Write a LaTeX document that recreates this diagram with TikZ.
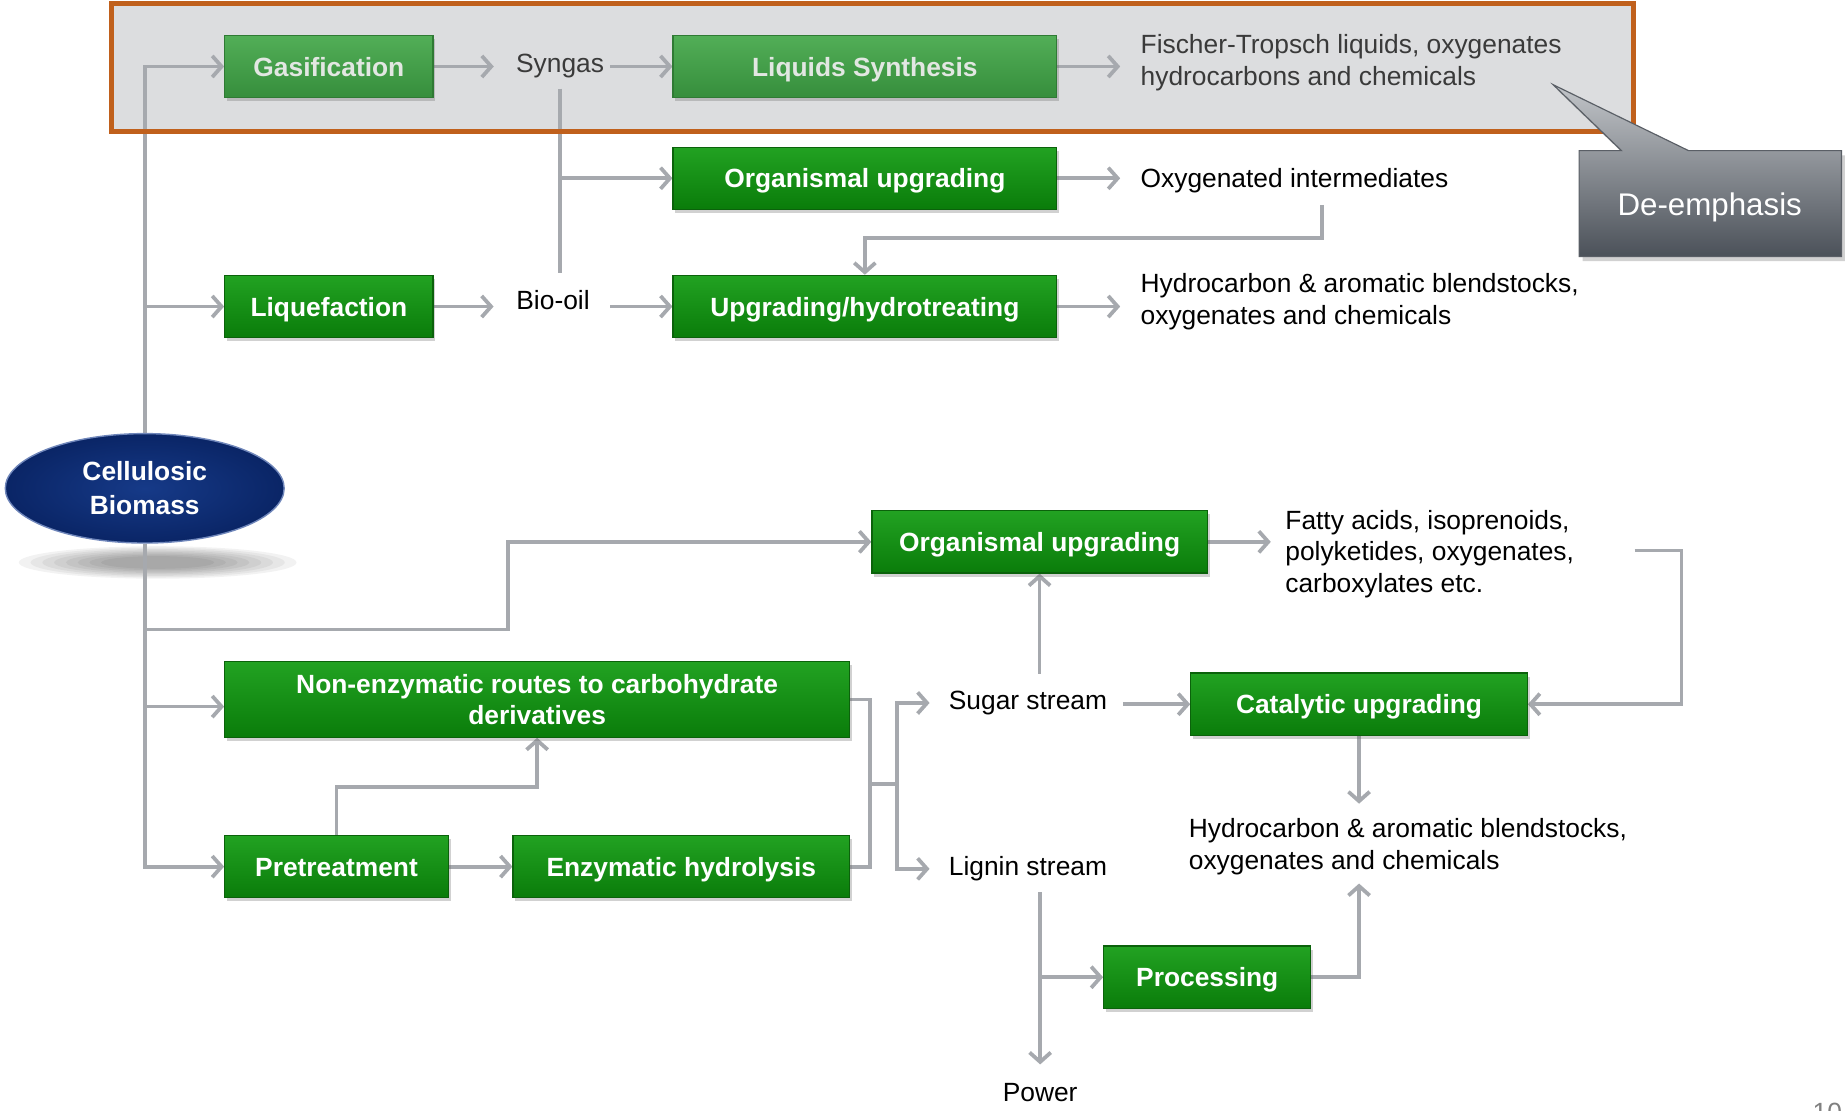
\documentclass[tikz,border=0pt]{standalone}
\usepackage{fontspec}
\setmainfont{Liberation Sans}
\usetikzlibrary{arrows.meta,shadows,shapes.geometric,calc}
\pgfdeclarelayer{bg}
\pgfsetlayers{bg,main}
\definecolor{lnk}{HTML}{A6A9AE}
\definecolor{gtop}{HTML}{22A222}
\definecolor{gbot}{HTML}{0A7C0A}
\definecolor{gedge}{HTML}{0B620B}
\definecolor{ftop}{HTML}{52AE57}
\definecolor{fbot}{HTML}{368E3C}
\definecolor{fedge}{HTML}{2F7A34}
\definecolor{ftext}{HTML}{E2E7E2}
\definecolor{orng}{HTML}{C0601C}
\definecolor{panel}{HTML}{DCDDDF}
\definecolor{cbin}{HTML}{163A88}
\definecolor{cbout}{HTML}{0A2566}
\definecolor{cbedge}{HTML}{6F86BA}
\definecolor{cltop}{HTML}{C2C5C9}
\definecolor{clmid}{HTML}{9A9DA3}
\definecolor{clbot}{HTML}{4B5159}
\definecolor{cledge}{HTML}{5A5F66}
\definecolor{dimtext}{HTML}{3A3A3A}
\begin{document}
\begin{tikzpicture}[x=0.5pt,y=-0.5pt,
  gbox/.style={draw=gedge, line width=0.5pt, top color=gtop, bottom color=gbot,
    text=white, font=\bfseries\fontsize{11.2}{13.5}\selectfont, align=center,
    inner sep=0pt, minimum height=26.5pt,
    drop shadow={shadow xshift=1pt, shadow yshift=-1.5pt, opacity=0.3, fill=black!60}},
  sbox/.style={gbox, text height=8.2pt, text depth=0pt},
  fbox/.style={sbox, draw=fedge, top color=ftop, bottom color=fbot, text=ftext},
  txt/.style={inner sep=0pt, text height=8pt, text depth=2.4pt,
    font=\fontsize{11.2}{13.5}\selectfont},
  mtxt/.style={inner sep=0pt, align=left, anchor=north west,
    font=\fontsize{11.2}{13.5}\selectfont},
  ln/.style={draw=lnk, line width=1.6pt},
  arr/.style={ln, -{Straight Barb[length=4pt,width=9pt]}}
]
\useasboundingbox (0,0) rectangle (1568,944);

% ---------- nodes ----------
\node[fbox, minimum width=88.5pt] (gas) at (279.5,56.5) {Gasification};
\node[fbox, minimum width=163pt] (liq) at (735,56.5) {Liquids Synthesis};
\node[sbox, minimum width=163pt] (org1) at (735,151.5) {Organismal upgrading};
\node[sbox, minimum width=88.5pt] (lqf) at (279.5,260.5) {Liquefaction};
\node[sbox, minimum width=163pt] (upg) at (735,260.5) {Upgrading/hydrotreating};
\node[sbox, minimum width=142.5pt] (org2) at (883.5,460.5) {Organismal upgrading};
\node[gbox, minimum width=265.5pt, minimum height=32pt] (nonenz) at (456.5,594.5)
  {Non-enzymatic routes to carbohydrate\\derivatives};
\node[sbox, minimum width=95pt] (pre) at (286,736.5) {Pretreatment};
\node[sbox, minimum width=143pt] (enz) at (579,736.5) {Enzymatic hydrolysis};
\node[sbox, minimum width=143pt] (cat) at (1155,598.5) {Catalytic upgrading};
\node[sbox, minimum width=88pt] (proc) at (1026,830.5) {Processing};

\node[ellipse, minimum width=118.5pt, minimum height=46.5pt, inner sep=0pt,
  inner color=cbin, outer color=cbout, draw=cbedge, line width=0.6pt,
  text=white, align=center, font=\bfseries\fontsize{11.2}{14.5}\selectfont]
  (cb) at (123,415) {Cellulosic\\Biomass};

\node[txt, text=dimtext] (syn) at (476,56.4) {Syngas};
\node[txt] (bio) at (470,257.4) {Bio-oil};
\node[mtxt, text=dimtext] (ft) at (969,29) {Fischer-Tropsch liquids, oxygenates\\hydrocarbons and chemicals};
\node[txt, anchor=west] (oxi) at (969,153.4) {Oxygenated intermediates};
\node[mtxt] (hc1) at (969,232) {Hydrocarbon \& aromatic blendstocks,\\oxygenates and chemicals};
\node[mtxt] (fat) at (1092,433) {Fatty acids, isoprenoids,\\polyketides, oxygenates,\\carboxylates etc.};
\node[txt, anchor=west] (sug) at (806,597.4) {Sugar stream};
\node[txt, anchor=west] (lig) at (806,738.4) {Lignin stream};
\node[mtxt] (hc2) at (1010,695) {Hydrocarbon \& aromatic blendstocks,\\oxygenates and chemicals};
\node[txt] (pow) at (884,930.4) {Power};
\coordinate (hub) at (762,666);
\coordinate (turn) at (432,535);

% ---------- background: panel, shadow, connectors ----------
\begin{pgfonlayer}{bg}
\fill[panel] (95,3) rectangle (1388,112);
\foreach \i in {1,...,8}
  \fill[black, opacity=0.05] (134,478) ellipse ({64pt-\i*5pt} and {7.5pt-\i*0.6pt});

\draw[arr] (cb.north) |- (gas.west);
\draw[arr] (cb.north) |- (lqf.west);
\draw[arr] (cb.south) |- ([yshift=-3pt]nonenz.west);
\draw[arr] (cb.south) |- (pre.west);
\draw[arr] (cb.south) |- (turn) |- (org2.west);

\draw[arr, shorten >=9.3pt] (gas.east) -- (gas.east -| syn.west);
\draw[arr, shorten <=2.5pt] (liq.west -| syn.east) -- (liq.west);
\draw[arr, shorten >=8.5pt] (liq.east) -- (liq.east -| ft.west);
\draw[ln, shorten <=4.1pt, shorten >=7.5pt] (syn.south) -- (syn.south |- bio.north);
\draw[arr] (syn.south |- org1.west) -- (org1.west);
\draw[arr, shorten >=8.5pt] (org1.east) -- (org1.east -| oxi.west);
\draw[arr] ([shift={(11.6pt,-5pt)}]oxi.south) |- ([yshift=15.5pt]upg.north) -- (upg.north);
\draw[arr, shorten >=9.5pt] (lqf.east) -- (lqf.east -| bio.west);
\draw[arr, shorten <=8.5pt] (upg.west -| bio.east) -- (upg.west);
\draw[arr, shorten >=8.5pt] (upg.east) -- (upg.east -| hc1.west);

\draw[arr, shorten >=6pt] (org2.east) -- (org2.east -| fat.west);
\draw[arr] ([xshift=25.5pt,yshift=1.5pt]fat.east) -- ++(20pt,0) |- (cat.east);
\draw[arr] ([yshift=7pt]org2.south |- sug.north) -- (org2.south);
\draw[arr, shorten <=6.5pt] (cat.west -| sug.east) -- (cat.west);
\draw[arr, shorten >=6pt] (cat.south) -- (cat.south |- hc2.north);
\draw[ln] (nonenz.east) -- ++(8.5pt,0) |- (enz.east);
\draw[ln] (hub) -- ++(-11.5pt,0);
\draw[arr, shorten >=8pt] (hub) |- (sug.west);
\draw[arr, shorten >=8pt] (hub) |- (lig.west);
\draw[arr] (pre.north) |- ([yshift=-21pt]nonenz.south) -- (nonenz.south);
\draw[arr] (pre.east) -- (enz.west);
\draw[arr, shorten <=4.6pt, shorten >=7.5pt] (pow.north |- lig.south) -- (pow.north);
\draw[arr] (pow.north |- proc.west) -- (proc.west);
\draw[arr] (proc.east) -| ([yshift=-3.6pt]cat.south |- hc2.south);
\end{pgfonlayer}

% ---------- panel border and callout ----------
\draw[orng, line width=2.1pt] (95,3) rectangle (1388,112);
\path[draw=cledge, line width=0.5pt, top color=cltop, middle color=clmid, bottom color=clbot,
  drop shadow={shadow xshift=1.5pt, shadow yshift=-2pt, opacity=0.3, fill=black!60}]
  (1342,128) -- (1378,128) -- (1320,72) -- (1435,128) -- (1565,128)
  -- (1565,218) -- (1342,218) -- cycle;
\node[text=white, inner sep=0pt, font=\fontsize{13.3}{16}\selectfont] (de) at (1453,176) {De-emphasis};

\node[text=black!50, inner sep=0pt, anchor=north, font=\fontsize{11.2}{13.5}\selectfont] (pg) at (1553,937) {10};
\end{tikzpicture}
\end{document}
